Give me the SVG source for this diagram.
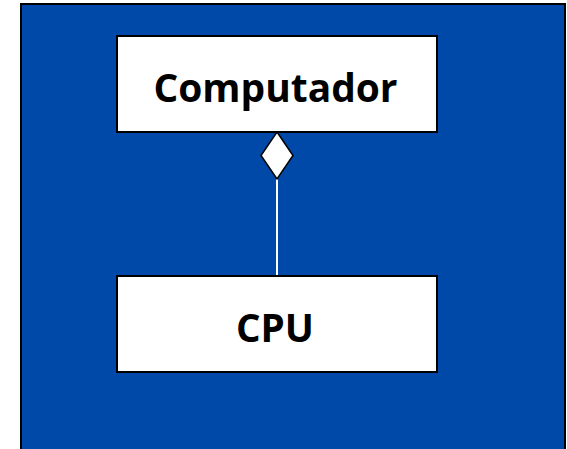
<svg xmlns="http://www.w3.org/2000/svg" width="567" height="449" viewBox="0 0 567 449">
<style>
.box{fill:#ffffff;stroke:#000000;stroke-width:2}
.lbl{font-family:"Open Sans","Liberation Sans",Arial,sans-serif;font-weight:bold;font-size:40px;fill:#000000;text-anchor:middle}
</style>
<rect x="0" y="0" width="567" height="449" fill="#ffffff"/>
<rect id="background" x="21" y="4" width="544" height="452" fill="#0049A9" stroke="#000000" stroke-width="2"/>
<g id="connectors">
<line x1="277" y1="179" x2="277" y2="276" stroke="#ffffff" stroke-width="2"/>
<polygon points="277,132 293,155.5 277,179 261,155.5" fill="#ffffff" stroke="#000000" stroke-width="1.5"/>
</g>
<g id="computador">
<rect class="box" x="117" y="36" width="320" height="96"/>
<text class="lbl" x="275.5" y="101.7" textLength="244" lengthAdjust="spacingAndGlyphs">Computador</text>
</g>
<g id="cpu">
<rect class="box" x="117" y="276" width="320" height="96"/>
<text class="lbl" x="275" y="342.3" textLength="78" lengthAdjust="spacingAndGlyphs">CPU</text>
</g>
</svg>
